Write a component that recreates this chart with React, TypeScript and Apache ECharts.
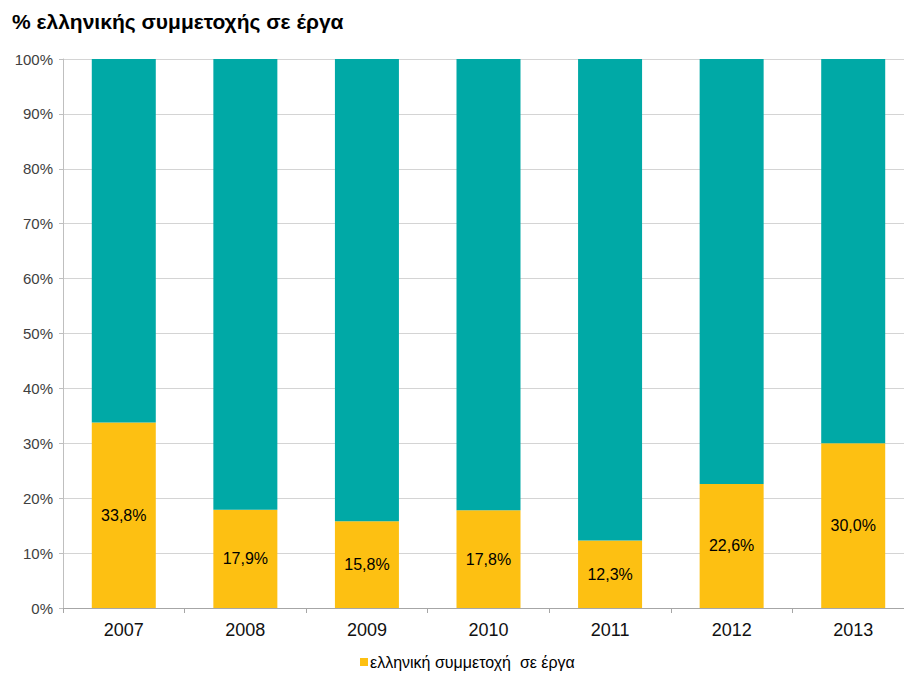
import React, { useEffect, useRef } from "react";
import * as echarts from "echarts";

const years = ["2007", "2008", "2009", "2010", "2011", "2012", "2013"];
const greekShare = [33.8, 17.9, 15.8, 17.8, 12.3, 22.6, 30.0];
const otherShare = [66.2, 82.1, 84.2, 82.2, 87.7, 77.4, 70.0];
const titleText = "% ελληνικής συμμετοχής σε έργα";
const legendName = "ελληνική συμμετοχή  σε έργα";

export default function App() {
  const ref = useRef<HTMLDivElement>(null);
  useEffect(() => {
    if (!ref.current) return;
    const chart = echarts.init(ref.current, null, { renderer: "svg" });
    const font = "Liberation Sans, Arial, sans-serif";
    chart.setOption({
      animation: false,
      textStyle: { fontFamily: font },
      title: {
        text: titleText,
        left: 7,
        top: 6,
        textStyle: { fontFamily: font, fontSize: 21, fontWeight: "bold", color: "#000" },
      },
      legend: {
        data: [legendName],
        top: 653,
        left: 360,
        padding: 0,
        itemWidth: 8,
        itemHeight: 8,
        itemGap: 4,
        icon: "rect",
        textStyle: { fontFamily: font, fontSize: 16, lineHeight: 18, color: "#000", padding: [0, 0, 0, -3] },
      },
      grid: { left: 63, width: 851, top: 59, height: 549, containLabel: false },
      xAxis: {
        type: "category",
        data: years,
        axisLine: { lineStyle: { color: "#a6a6a6" } },
        axisTick: { show: true, length: 5, lineStyle: { color: "#a6a6a6" } },
        axisLabel: { fontFamily: font, fontSize: 18, color: "#111", margin: 13 },
      },
      yAxis: {
        type: "value",
        min: 0,
        max: 100,
        interval: 10,
        axisLine: { show: true, lineStyle: { color: "#bfbfbf" } },
        axisTick: { show: true, length: 4, lineStyle: { color: "#bfbfbf" } },
        splitLine: { lineStyle: { color: "#d4d4d4" } },
        axisLabel: {
          fontFamily: font,
          fontSize: 15,
          color: "#404040",
          margin: 10,
          formatter: (v: number) => v + "%",
        },
      },
      series: [
        {
          name: legendName,
          type: "bar",
          stack: "s",
          data: greekShare,
          barWidth: 64,
          itemStyle: { color: "#FDC012" },
          label: {
            show: true,
            position: "inside",
            fontFamily: font,
            fontSize: 16,
            color: "#000",
            formatter: (p: any) => p.value.toFixed(1).replace(".", ",") + "%",
          },
        },
        {
          name: "other",
          type: "bar",
          stack: "s",
          data: otherShare,
          barWidth: 64,
          itemStyle: { color: "#00A9A6" },
        },
      ],
    });
    return () => chart.dispose();
  }, []);
  return (
    <div style={{ position: "absolute", left: 0, top: 0, width: 904, height: 673, overflow: "hidden", background: "#fff" }}>
      <div ref={ref} style={{ width: 930, height: 673 }} />
    </div>
  );
}
